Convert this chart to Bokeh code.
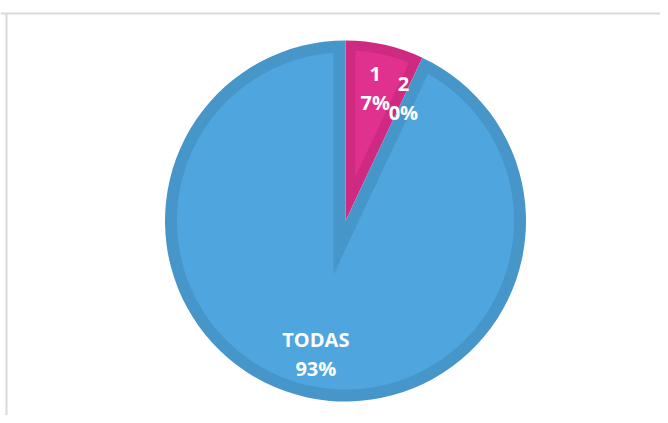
import numpy as np
from bokeh.plotting import figure
from bokeh.models import Range1d, ColumnDataSource
from bokeh.core.properties import value
from bokeh.embed import file_html
from bokeh.resources import INLINE

# ---- data ----
categories = ["1", "2", "TODAS"]
percents = [7, 0, 93]
dark_colors = ["#CF2A82", "#B82472", "#4696CA"]
light_colors = ["#E1318F", "#C92A7E", "#4FA6DE"]
border_widths = [10, 10, 12]

R = 180.5
CX, CY = 345, 220.5
W, H = 660, 415
p = figure(width=W, height=H, output_backend="svg", toolbar_location=None,
           x_range=Range1d(-CX, W - CX), y_range=Range1d(CY - H, CY),
           min_border=0, border_fill_color="white", background_fill_color="white")
p.axis.visible = False
p.grid.visible = False
p.outline_line_color = None

# chart frame (decoration)
p.segment(x0=[-CX, 6 - CX], y0=[CY - 13, CY - 13], x1=[W - CX, 6 - CX], y1=[CY - 13, CY - H],
          line_color="#D9D9D9", line_width=2)

total = float(sum(percents))
fr = np.array(percents) / total
cum = np.concatenate([[0], np.cumsum(fr)])
a_start = np.pi / 2 - cum[1:] * 2 * np.pi   # anticlockwise start
a_end = np.pi / 2 - cum[:-1] * 2 * np.pi

# dark full wedges
for i in range(len(categories)):
    if percents[i] <= 0:
        continue
    p.wedge(x=0, y=0, radius=R, start_angle=a_start[i], end_angle=a_end[i],
            fill_color=dark_colors[i], line_color=None)

# lighter inner regions (mitred inset of each slice)
def inset(a0, a1, d):
    th = a1 - a0
    b = (a0 + a1) / 2
    dm = d / np.sin(th / 2)
    m = (dm * np.cos(b), dm * np.sin(b))
    r = R - d
    dl = np.arcsin(d / r)
    ang = np.linspace(a0 + dl, a1 - dl, 200)
    xs = [m[0]] + list(r * np.cos(ang)) + [m[0]]
    ys = [m[1]] + list(r * np.sin(ang)) + [m[1]]
    return xs, ys

for i in range(len(categories)):
    if percents[i] <= 0:
        continue
    a0 = a_start[i]
    a1 = a_end[i]
    if a1 < a0:
        a1 += 2 * np.pi
    xs, ys = inset(a0, a1, border_widths[i])
    p.patch(xs, ys, fill_color=light_colors[i], line_color=None)

# labels
mid = (a_start + a_end) / 2
lr = 136
labels = [f"{c}\n{v}%" for c, v in zip(categories, percents)]
src = ColumnDataSource(dict(x=lr * np.cos(mid), y=lr * np.sin(mid), t=labels))
p.text(x="x", y="y", text="t", source=src, text_color="white",
       text_font=value("Open Sans"), text_font_style="bold", text_font_size="20px",
       text_align="center", text_baseline="middle", text_line_height=1.08)

open("out.html", "w").write(file_html(p, INLINE))
